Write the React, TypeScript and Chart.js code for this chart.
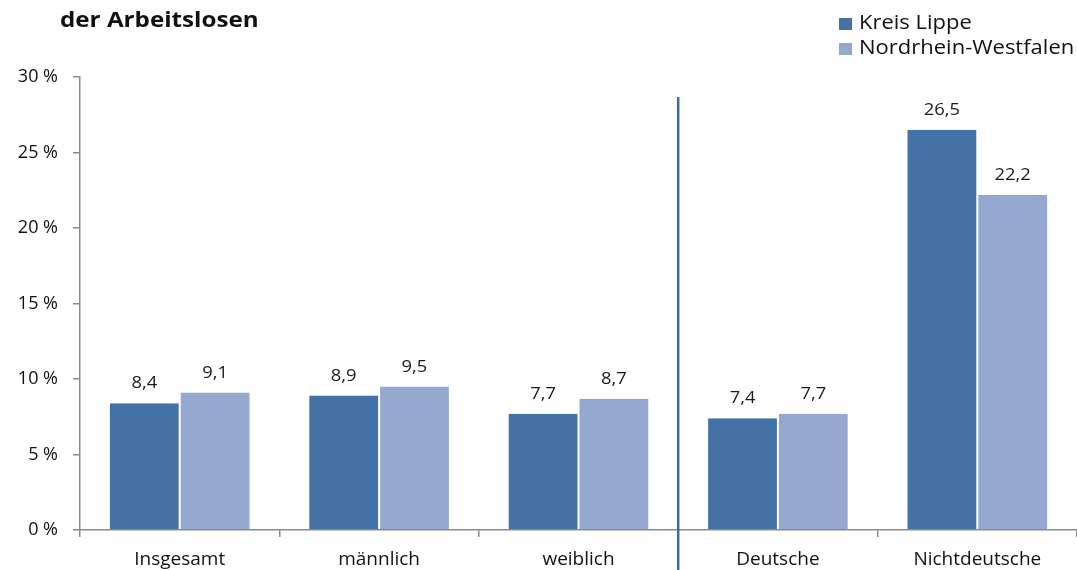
import React, { useEffect, useRef } from "react";
import { Chart, registerables } from "chart.js";

Chart.register(...registerables);

const categories = ["Insgesamt", "männlich", "weiblich", "Deutsche", "Nichtdeutsche"];
const seriesNames = ["Kreis Lippe", "Nordrhein-Westfalen"];
const kreisLippe = [8.4, 8.9, 7.7, 7.4, 26.5];
const nrw = [9.1, 9.5, 8.7, 7.7, 22.2];
const yTicks = [0, 5, 10, 15, 20, 25, 30];
const titleText = "der Arbeitslosen";

const COL1 = "#4472A6";
const COL2 = "#95A9D0";
const FONT = "'Open Sans', 'Noto Sans', sans-serif";

function stretchedText(ctx: any, text: string, x: number, y: number, sx: number, align: string) {
  ctx.save();
  ctx.translate(x, y);
  ctx.scale(sx, 1);
  ctx.textAlign = align;
  ctx.fillText(text, 0, 0);
  ctx.restore();
}

const overlayPlugin = {
  id: "overlay",
  afterDatasetsDraw(chart: any) {
    const ctx = chart.ctx;
    const x = chart.scales.x;
    // separator line between weiblich and Deutsche
    const sx = (x.getPixelForValue(2) + x.getPixelForValue(3)) / 2;
    ctx.save();
    ctx.strokeStyle = "#3F6A9E";
    ctx.lineWidth = 2.5;
    ctx.beginPath();
    ctx.moveTo(sx, 97);
    ctx.lineTo(sx, chart.height);
    ctx.stroke();

    // data labels
    ctx.fillStyle = "#1a1a1a";
    ctx.font = `17px ${FONT}`;
    ctx.textBaseline = "alphabetic";
    chart.data.datasets.forEach((ds: any, di: number) => {
      const meta = chart.getDatasetMeta(di);
      meta.data.forEach((bar: any, i: number) => {
        const v = ds.data[i];
        stretchedText(ctx, String(v).replace(".", ","), bar.x, bar.y - 15, 1.08, "center");
      });
    });

    // title
    ctx.font = `bold 22px ${FONT}`;
    ctx.fillStyle = "#111";
    stretchedText(ctx, titleText, 60, 27, 1.1, "left");

    // legend
    ctx.font = `20px ${FONT}`;
    chart.data.datasets.forEach((ds: any, di: number) => {
      const y = 29 + di * 25;
      ctx.fillStyle = ds.backgroundColor;
      ctx.fillRect(839, y - 11, 13, 12);
      ctx.fillStyle = "#111";
      stretchedText(ctx, ds.label, 859, y, 1.1, "left");
    });
    ctx.restore();
  },
};

export default function App() {
  const ref = useRef<HTMLCanvasElement>(null);
  useEffect(() => {
    document.body.style.margin = "0";
    const chart = new Chart(ref.current!, {
      type: "bar",
      data: {
        labels: categories,
        datasets: [
          {
            label: seriesNames[0],
            data: kreisLippe,
            backgroundColor: COL1,
            borderColor: "#ffffff",
            borderWidth: { left: 1, right: 1, top: 0, bottom: 0 },
            categoryPercentage: 0.71,
            barPercentage: 1,
          },
          {
            label: seriesNames[1],
            data: nrw,
            backgroundColor: COL2,
            borderColor: "#ffffff",
            borderWidth: { left: 1, right: 1, top: 0, bottom: 0 },
            categoryPercentage: 0.71,
            barPercentage: 1,
          },
        ],
      },
      options: {
        animation: false,
        responsive: false,
        maintainAspectRatio: false,
        layout: { padding: { top: 77, left: 0, right: 0, bottom: 0 } },
        plugins: {
          legend: { display: false },
          title: { display: false },
          tooltip: { enabled: false },
        },
        scales: {
          x: {
            grid: {
              display: true,
              offset: true,
              drawOnChartArea: false,
              tickLength: 7,
              color: "#8a8a8a",
              lineWidth: 1.5,
            },
            border: { color: "#8a8a8a", width: 1.5 },
            ticks: {
              color: "#111",
              font: { family: FONT, size: 19 },
              padding: 11,
            },
            afterFit(scale: any) {
              scale.height = 40;
            },
          },
          y: {
            min: 0,
            max: 30,
            afterBuildTicks(scale: any) {
              scale.ticks = yTicks.map((v) => ({ value: v }));
            },
            grid: {
              display: true,
              drawOnChartArea: false,
              tickLength: 7,
              color: "#8a8a8a",
              lineWidth: 1.5,
            },
            border: { color: "#8a8a8a", width: 1.5 },
            ticks: {
              color: "#111",
              font: { family: FONT, size: 18 },
              padding: 15,
              callback: (v: any) => `${v} %`,
            },
            afterFit(scale: any) {
              scale.width = 80;
            },
          },
        },
      },
      plugins: [overlayPlugin],
    });
    return () => chart.destroy();
  }, []);
  return (
    <div style={{ position: "fixed", left: 0, top: 0, width: 1077, height: 570 }}>
      <canvas ref={ref} width={1077} height={570} style={{ width: 1077, height: 570 }} />
    </div>
  );
}
